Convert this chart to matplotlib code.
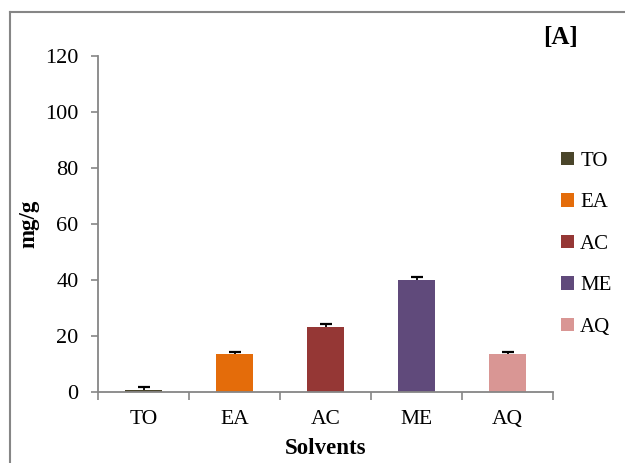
import matplotlib.pyplot as plt
from matplotlib.lines import Line2D
from matplotlib.patches import Patch

solvents = ["TO", "EA", "AC", "ME", "AQ"]
values = [0.8, 13.6, 23.3, 40.0, 13.6]
errors = [1.2, 0.9, 1.2, 1.1, 0.9]
colors = ["#4a452a", "#e46c0a", "#953735", "#604a7b", "#d99694"]

plt.rcParams["font.family"] = ["Liberation Serif", "DejaVu Serif"]
grey = "#868686"

fig = plt.figure(figsize=(6.25, 4.63), dpi=100)
ax = fig.add_axes([0.1568, 0.1527, 0.728, 0.7264])

x = range(len(solvents))
ax.bar(x, values, width=0.41, color=colors, zorder=2)
# plus-only error bars: hide the lower cap
_, caps, _ = ax.errorbar(x, values, yerr=[[0] * len(errors), errors], fmt="none",
                         ecolor="black", elinewidth=1.3, capsize=4.6,
                         capthick=1.6, zorder=3)
caps[0].set_visible(False)

ax.set_xlim(-0.5, len(solvents) - 0.5)
ax.set_ylim(0, 120)
ax.set_yticks(range(0, 121, 20))
ax.set_xticks([i - 0.5 for i in range(len(solvents) + 1)])
ax.set_xticklabels([])
ax.set_xticks(list(x), minor=True)
ax.set_xticklabels(solvents, minor=True)
ax.tick_params(axis="x", which="major", direction="out", length=6, color=grey, width=1.2)
ax.tick_params(axis="x", which="minor", length=0, pad=13, labelsize=15.5)
ax.tick_params(axis="y", direction="out", length=5, color=grey, width=1.2, pad=9, labelsize=16)

for side in ["top", "right"]:
    ax.spines[side].set_visible(False)
for side in ["left", "bottom"]:
    ax.spines[side].set_color(grey)
    ax.spines[side].set_linewidth(1.3)

ax.set_xlabel("Solvents", fontsize=16.5, fontweight="bold", labelpad=6)
ax.set_ylabel("mg/g", fontsize=16.5, fontweight="bold", labelpad=4)

fig.text(0.924, 0.918, "[A]", fontsize=18, fontweight="bold", ha="right", va="center")

handles = [Patch(facecolor=c, label=s) for s, c in zip(solvents, colors)]
fig.legend(handles=handles, loc="upper left", bbox_to_anchor=(0.885, 0.69),
           frameon=False, fontsize=15, handlelength=0.6, handleheight=0.6,
           handletextpad=0.3, labelspacing=1.08, borderaxespad=0)

# outer frame (top and left edges only, the rest runs off the canvas)
fig.add_artist(Line2D([0.016, 1.0], [0.974, 0.974], color=grey, lw=1.5))
fig.add_artist(Line2D([0.016, 0.016], [0.0, 0.974], color=grey, lw=1.5))

fig.savefig("out.png", dpi=100)
